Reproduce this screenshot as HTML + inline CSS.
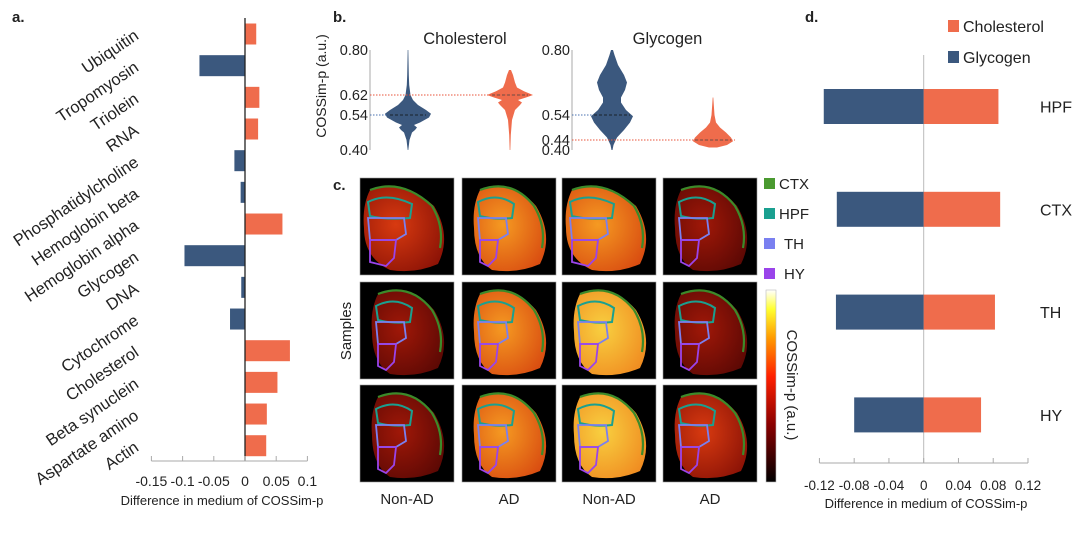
<!DOCTYPE html>
<html><head><meta charset="utf-8">
<style>
html,body{margin:0;padding:0;background:#fff;}
svg{display:block;font-family:"Liberation Sans",sans-serif;}
</style></head>
<body>
<svg id="fig" width="1080" height="538" viewBox="0 0 1080 538">
<g id="pa"></g>
<g id="pb"></g>
<g id="pc"></g>
<g id="pd"></g>
</svg>
<script>
// ---- Panel a data ----
const aCategories = ["Ubiquitin","Tropomyosin","Triolein","RNA","Phosphatidylcholine","Hemoglobin beta","Hemoglobin alpha","Glycogen","DNA","Cytochrome","Cholesterol","Beta synuclein","Aspartate amino","Actin"];
const aValues = [0.018,-0.073,0.023,0.021,-0.017,-0.007,0.060,-0.097,-0.006,-0.024,0.072,0.052,0.035,0.034];
const aTicks = [-0.15,-0.1,-0.05,0,0.05,0.1];
const aTickLabels = ["-0.15","-0.1","-0.05","0","0.05","0.1"];
// ---- Panel d data ----
const dRegions = ["HPF","CTX","TH","HY"];
const dGlycogen = [-0.115,-0.100,-0.101,-0.080];
const dCholesterol = [0.086,0.088,0.082,0.066];
const dTicks = [-0.12,-0.08,-0.04,0,0.04,0.08,0.12];
const dTickLabels = ["-0.12","-0.08","-0.04","0","0.04","0.08","0.12"];
// ---- Panel b violin data (value, half-width) ----
const bTicksChol = [0.80,0.62,0.54,0.40];
const bTicksGly = [0.80,0.54,0.44,0.40];
const cholAD = [[0.40,0.3],[0.44,1.5],[0.47,4],[0.48,7],[0.49,9],[0.50,6],[0.51,12],[0.53,21],[0.545,23],[0.56,18],[0.58,10],[0.60,5],[0.62,2.5],[0.66,1.2],[0.70,0.8],[0.80,0.3]];
const cholNon = [[0.40,0.3],[0.46,0.8],[0.52,2],[0.56,5],[0.58,10],[0.59,12],[0.60,8],[0.61,16],[0.62,23],[0.635,14],[0.65,7],[0.67,5],[0.70,3],[0.72,1]];
const glyAD = [[0.40,0.5],[0.42,1.5],[0.45,5],[0.48,12],[0.51,18],[0.535,21],[0.56,14],[0.59,9],[0.61,9],[0.64,13],[0.67,15],[0.70,12],[0.74,6],[0.78,2.5],[0.80,1]];
const glyNon = [[0.41,4],[0.42,14],[0.435,20],[0.45,18],[0.47,13],[0.49,7],[0.51,3],[0.54,1.5],[0.58,0.8],[0.61,0.3]];
const bMedians = [0.54,0.62,0.54,0.44];

const NS="http://www.w3.org/2000/svg";
function mk(parent,tag,attrs,txt){const e=document.createElementNS(NS,tag);for(const k in attrs)e.setAttribute(k,attrs[k]);if(txt!==undefined)e.textContent=txt;parent.appendChild(e);return e;}
const BLUE="#3b587e", ORANGE="#ef6c4c", TXT="#222";

// ===== Panel a =====
(function(){
 const g=document.getElementById('pa');
 const x0=245, sx=624; const X=v=>x0+v*sx;
 const y0=34, pitch=31.67, bh=21;
 let t=mk(g,'text',{x:12,y:22,'font-size':15,'font-weight':'bold',fill:TXT},'a.');
 
 
 aValues.forEach((v,i)=>{
  const cy=y0+i*pitch;
  const r=mk(g,'rect',{x:Math.min(X(0),X(v)),y:cy-bh/2,width:Math.abs(X(v)-X(0)),height:bh,fill:v<0?BLUE:ORANGE});
  
  
  const l=mk(g,'text',{x:137,y:cy+5,'text-anchor':'end','font-size':16.5,fill:TXT,transform:`rotate(-34 137 ${cy})`},aCategories[i]);
  
  
 });
 const zl=mk(g,'line',{x1:X(0),x2:X(0),y1:18,y2:461,stroke:'#222','stroke-width':1.3});
 
 
 const ax=mk(g,'line',{x1:X(-0.15),x2:X(0.1),y1:461,y2:461,stroke:'#aaa','stroke-width':1});
 
 
 aTicks.forEach((v,i)=>{
  mk(g,'line',{x1:X(v),x2:X(v),y1:456,y2:461,stroke:'#aaa'});
  const tl=mk(g,'text',{x:X(v),y:486,'text-anchor':'middle','font-size':14,fill:TXT},aTickLabels[i]);
  
  
 });
 const ti=mk(g,'text',{x:222,y:505,'text-anchor':'middle','font-size':13,fill:TXT},'Difference in medium of COSSim-p');
 
 
})();

// ===== Panel b =====
(function(){
 const g=document.getElementById('pb');
 const Y=v=>150-(v-0.40)/0.40*100;
 let t=mk(g,'text',{x:333,y:22,'font-size':15,'font-weight':'bold',fill:TXT},'b.');
 
 
 const yt=mk(g,'text',{x:0,y:0,'font-size':14,'text-anchor':'middle',fill:TXT,transform:'translate(326 86) rotate(-90)'},'COSSim-p (a.u.)');
 
 
 function violin(data,cx,color,name){
  let d='M'+cx+' '+Y(data[0][0]);
  data.forEach(p=>{d+=' L'+(cx+p[1])+' '+Y(p[0]);});
  for(let i=data.length-1;i>=0;i--){d+=' L'+(cx-data[i][1])+' '+Y(data[i][0]);}
  const p=mk(g,'path',{d:d+'Z',fill:color});
  
  
 }
 function panel(ax,title,ticks,vA,vN,cA,cN,medA,medN){
  const tt=mk(g,'text',{x:(ax+cN+30)/2+10,y:44,'text-anchor':'middle','font-size':16.5,fill:TXT},title);
  
  
  mk(g,'line',{x1:ax,x2:ax,y1:Y(0.80),y2:Y(0.40),stroke:'#aaa'});
  ticks.forEach(v=>{
   const tl=mk(g,'text',{x:ax-2,y:Y(v)+5,'text-anchor':'end','font-size':14.5,fill:TXT},v.toFixed(2));
   
   
  });
  violin(vA,cA,BLUE,'violin-ad-'+title.toLowerCase());
  violin(vN,cN,ORANGE,'violin-nonad-'+title.toLowerCase());
  mk(g,'line',{x1:ax,x2:cA-20,y1:Y(medA),y2:Y(medA),stroke:'#4a72b0','stroke-dasharray':'1.5 1.5','stroke-width':1});
  mk(g,'line',{x1:ax,x2:cN+22,y1:Y(medN),y2:Y(medN),stroke:'#e8533a','stroke-dasharray':'1.5 1.5','stroke-width':1});
  mk(g,'line',{x1:cA-18,x2:cA+18,y1:Y(medA),y2:Y(medA),stroke:'#111','stroke-dasharray':'3 2','stroke-width':0.8});
  mk(g,'line',{x1:cN-18,x2:cN+18,y1:Y(medN),y2:Y(medN),stroke:'#444','stroke-dasharray':'3 2','stroke-width':0.8});
 }
 panel(370,'Cholesterol',bTicksChol,cholAD,cholNon,408,510,bMedians[0],bMedians[1]);
 panel(572,'Glycogen',bTicksGly,glyAD,glyNon,612,713,bMedians[2],bMedians[3]);
})();

// ===== Panel c =====
(function(){
 const g=document.getElementById('pc');
 let t=mk(g,'text',{x:333,y:190,'font-size':15,'font-weight':'bold',fill:TXT},'c.');
 
 
 const defs=mk(g,'defs',{});
 const cmaps={dark:['#a01808','#5a0804'],red:['#d83a10','#8a1206'],orange:['#f59a22','#d84a10'],yellow:['#f8d040','#f08a20']};
 Object.keys(cmaps).forEach(k=>{
  const rg=mk(defs,'radialGradient',{id:'g-'+k,cx:'40%',cy:'45%',r:'70%'});
  mk(rg,'stop',{offset:'0%','stop-color':cmaps[k][0]});
  mk(rg,'stop',{offset:'100%','stop-color':cmaps[k][1]});
 });
 const cols=[360,462,562,663], rows=[178,282,385];
 const fills=[['red','orange','orange','dark'],['dark','orange','yellow','dark'],['dark','orange','yellow','red']];
 rows.forEach((ry,r)=>cols.forEach((cx,c)=>{
  const cell=mk(g,'g',{transform:`translate(${cx} ${ry})`});
  
  
  mk(cell,'rect',{x:0,y:0,width:94,height:97,fill:'#000',stroke:'#999','stroke-width':0.6});
  const ox=(c%2===0&&r===0)?-8:0;
  mk(cell,'path',{d:`M${18+ox} 12 Q${50+ox} 0 ${74} 28 Q${92} 58 ${78} 86 Q${55} 96 ${30} 92 Q${12+ox} 80 ${12+ox} 50 Q${10+ox} 28 ${18+ox} 12Z`,fill:`url(#g-${fills[r][c]})`});
  mk(cell,'path',{d:`M${18+ox} 12 Q${50+ox} 0 ${72} 28 Q${84} 48 ${80} 70`,fill:'none',stroke:'#3c8a2a','stroke-width':2.2});
  mk(cell,'path',{d:`M${16+ox} 24 Q${35+ox} 14 ${52} 26 L${50} 40 Q${33+ox} 42 ${18+ox} 38Z`,fill:'none',stroke:'#1aa090','stroke-width':2});
  mk(cell,'path',{d:`M${16+ox} 40 L${44} 40 L${46} 56 L${36} 62 L${18+ox} 62Z`,fill:'none',stroke:'#7a80f0','stroke-width':1.8});
  mk(cell,'path',{d:`M${18+ox} 62 L${36} 62 L${34} 80 L${26} 88 L${18+ox} 84Z`,fill:'none',stroke:'#9a44ea','stroke-width':1.8});
 }));
 const cl=['Non-AD','AD','Non-AD','AD'];
 cols.forEach((cx,i)=>{
  const l=mk(g,'text',{x:cx+47,y:504,'text-anchor':'middle','font-size':15,fill:TXT},cl[i]);
  
  
 });
 const s=mk(g,'text',{x:0,y:0,'font-size':15,'text-anchor':'middle',fill:TXT,transform:'translate(351 331) rotate(-90)'},'Samples');
 
 
 const legs=[['CTX','#4a9a30'],['HPF','#1aa090'],['TH','#7a80f0'],['HY','#9a44ea']];
 legs.forEach((L,i)=>{
  const y=178+i*30;
  const lg=mk(g,'g',{});
  
  
  mk(lg,'rect',{x:764,y:y,width:11,height:11,fill:L[1]});
  mk(lg,'text',{x:i>=2?784:779,y:y+11,'font-size':15,fill:TXT},L[0]);
 });
 const cg=mk(defs,'linearGradient',{id:'cbar',x1:0,y1:1,x2:0,y2:0});
 [['0','#000'],['0.3','#8a0000'],['0.55','#ff2000'],['0.75','#ff9a00'],['0.9','#ffff30'],['1','#ffffff']].forEach(s=>mk(cg,'stop',{offset:s[0],'stop-color':s[1]}));
 const cb=mk(g,'rect',{x:766,y:290,width:10,height:192,fill:'url(#cbar)',stroke:'#bbb','stroke-width':0.6});
 
 
 const ct=mk(g,'text',{x:0,y:0,'font-size':15,'text-anchor':'middle',fill:TXT,transform:'translate(787 385) rotate(90)'},'COSSim-p (a.u.)');
 
 
})();

// ===== Panel d =====
(function(){
 const g=document.getElementById('pd');
 const x0=923.7, sx=869; const X=v=>x0+v*sx;
 const y0=106.5, pitch=102.8, bh=35;
 let t=mk(g,'text',{x:805,y:22,'font-size':15,'font-weight':'bold',fill:TXT},'d.');
 
 
 const zl=mk(g,'line',{x1:x0,x2:x0,y1:55,y2:463,stroke:'#bbb','stroke-width':1});
 
 
 dRegions.forEach((r,i)=>{
  const cy=y0+i*pitch;
  const b1=mk(g,'rect',{x:X(dGlycogen[i]),y:cy-bh/2,width:X(0)-X(dGlycogen[i]),height:bh,fill:BLUE});
  
  
  const b2=mk(g,'rect',{x:X(0),y:cy-bh/2,width:X(dCholesterol[i])-X(0),height:bh,fill:ORANGE});
  
  
  const l=mk(g,'text',{x:1040,y:cy+6,'font-size':16,fill:TXT},r);
  
  
 });
 const ax=mk(g,'line',{x1:X(-0.12),x2:X(0.12),y1:463,y2:463,stroke:'#aaa'});
 
 
 dTicks.forEach((v,i)=>{
  mk(g,'line',{x1:X(v),x2:X(v),y1:458,y2:463,stroke:'#aaa'});
  const tl=mk(g,'text',{x:X(v),y:490,'text-anchor':'middle','font-size':13.5,fill:TXT},dTickLabels[i]);
  
  
 });
 const ti=mk(g,'text',{x:926,y:508,'text-anchor':'middle','font-size':13,fill:TXT},'Difference in medium of COSSim-p');
 
 
 [['Cholesterol',ORANGE,20],['Glycogen',BLUE,51]].forEach(L=>{
  const lg=mk(g,'g',{});
  
  
  mk(lg,'rect',{x:948,y:L[2],width:11,height:12,fill:L[1]});
  mk(lg,'text',{x:963,y:L[2]+12,'font-size':16,fill:TXT},L[0]);
 });
})();
</script>
</body></html>
